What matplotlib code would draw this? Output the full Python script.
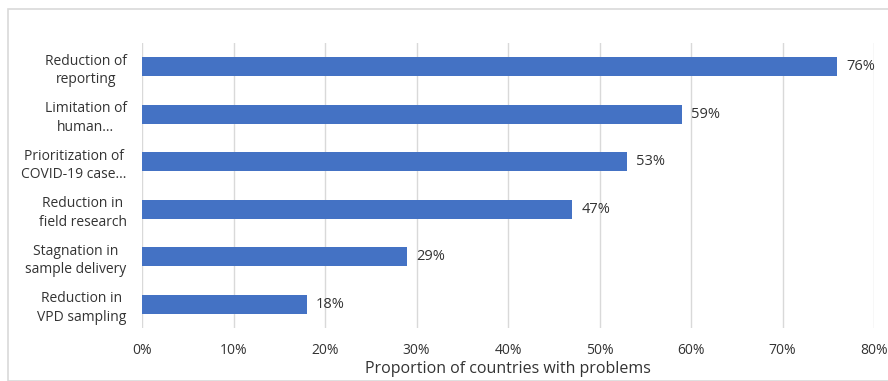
import matplotlib
matplotlib.use("Agg")
import matplotlib.pyplot as plt
from matplotlib.patches import Rectangle

categories = ["Reduction of\nreporting", "Limitation of\nhuman...", "Prioritization of\nCOVID-19 case...",
              "Reduction in\nfield research", "Stagnation in\nsample delivery", "Reduction in\nVPD sampling"]
values = [76, 59, 53, 47, 29, 18]
xticks = [0, 10, 20, 30, 40, 50, 60, 70, 80]
xlabel = "Proportion of countries with problems"

plt.rcParams['font.family'] = ['Open Sans', 'DejaVu Sans']
txt = '#333333'

fig = plt.figure(figsize=(8.88, 3.81), dpi=100)
fig.patches.append(Rectangle((8/888, 0), 1.0, 1 - 9/381, transform=fig.transFigure,
                             fill=False, edgecolor='#d9d9d9', linewidth=1.2))
ax = fig.add_axes([142/888, 1 - 328/381, (874 - 142)/888, (328 - 43)/381])

ypos = list(range(len(categories)))
ax.barh(ypos, values, height=0.4, color='#4472c4', zorder=3)
for y, v in zip(ypos, values):
    ax.text(v + 1.0, y, f"{v}%", va='center', ha='left', fontsize=10.5, color=txt)

ax.set_xlim(0, 80)
ax.set_ylim(len(categories) - 0.5, -0.5)
ax.set_yticks(ypos)
ax.set_yticklabels(categories, fontsize=10, color=txt, ha='right', multialignment='center',
                   linespacing=1.3)
ax.set_xticks(xticks)
ax.set_xticklabels([f"{t}%" for t in xticks], fontsize=10, color=txt)
ax.tick_params(length=0, pad=11)
ax.tick_params(axis='y', pad=11)
ax.grid(axis='x', color='#d9d9d9', linewidth=1, zorder=0)
for s in ax.spines.values():
    s.set_visible(False)
ax.set_xlabel(xlabel, fontsize=11.5, color=txt, labelpad=2)

fig.savefig("out.png", dpi=100)
